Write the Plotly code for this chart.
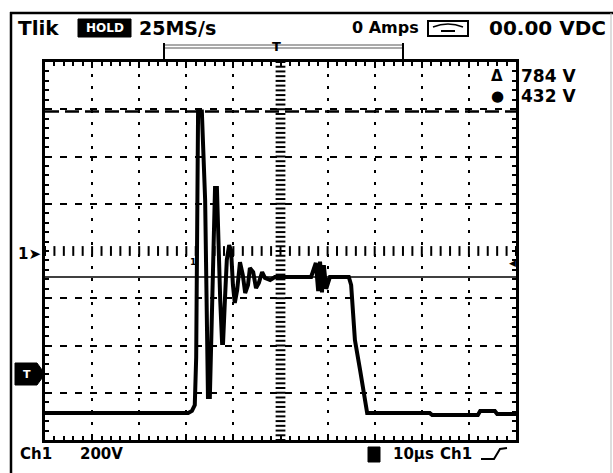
import plotly.graph_objects as go
import numpy as np

# ---- data (time in microseconds, 10 us/div; volts, 200 V/div) ----
time_us = [0.0, 30.4, 31.2, 31.8, 32.1, 32.5, 33.3, 34.0, 34.4, 34.6, 35.0, 35.2,
           35.7, 36.1, 36.5, 36.7, 37.2, 37.6, 37.8, 38.2, 38.6, 39.1, 39.5, 39.9, 40.3,
           40.8, 41.4, 42.0, 42.5, 43.1, 43.5, 44.2, 44.8, 45.4, 46.1, 46.7, 47.8, 48.8,
           56.5, 57.5, 58.0, 58.4, 58.8, 59.2, 59.7, 60.5, 64.5, 65.0, 65.8, 66.9,
           67.7, 68.4, 81.7, 82.2, 91.9, 92.4, 95.5, 96.0, 100.0]
volts = [-686, -686, -677, -652, -450, 590, 590, 216, -334, -618, -618, -419,
         4, 267, 267, 89, -207, -389, -389, -207, -38, 25, 4, -144, -220,
         -165, -47, -102, -178, -144, -72, -89, -157, -135, -89, -114, -123, -110,
         -110, -50, -170, -45, -175, -60, -160, -110, -110, -144, -377, -504,
         -610, -686, -686, -694, -694, -677, -677, -690, -690]

cursor_upper_v = 590
cursor_lower_v = -110

top_left_text = "Tlik"
hold_text = "HOLD"
rate_text = "25MS/s"
amps_text = "0 Amps"
vdc_text = "00.00 VDC"
delta_text = "784 V"
at_text = "432 V"
ch_scale = ["Ch1", "200V"]
time_scale = ["10µs", "Ch1"]

# ---- geometry helpers (pixel -> paper) ----
W, H = 613, 473
L, R, T, B = 45, 516, 62, 440
def px(x):
    return (x - L) / (R - L)
def py(y):
    return (B - y) / (B - T)

FONT = "DejaVu Sans"

fig = go.Figure()

# graticule centre tick marks
cx = np.arange(0, 100.01, 2.0)
fig.add_trace(go.Scatter(x=cx, y=[0] * len(cx), mode="markers",
                         marker=dict(symbol="line-ns", size=7, line=dict(width=2, color="black")),
                         hoverinfo="skip", showlegend=False))
cy = np.arange(-800, 800.01, 20)
fig.add_trace(go.Scatter(x=[50] * len(cy), y=cy, mode="markers",
                         marker=dict(symbol="line-ew", size=7, line=dict(width=2, color="black")),
                         hoverinfo="skip", showlegend=False))

# waveform
fig.add_trace(go.Scatter(x=time_us, y=volts, mode="lines",
                         line=dict(color="black", width=4),
                         showlegend=False))

shapes = []
def pline(x0, y0, x1, y1, color="black", width=2):
    shapes.append(dict(type="line", xref="paper", yref="paper", layer="above",
                       x0=px(x0), x1=px(x1), y0=py(y0), y1=py(y1),
                       line=dict(color=color, width=width)))

# cursors
shapes.append(dict(type="line", xref="x", yref="y", x0=0, x1=100, y0=cursor_upper_v, y1=cursor_upper_v,
                   line=dict(color="black", width=2.5, dash="14px,6px")))
shapes.append(dict(type="line", xref="x", yref="y", x0=0, x1=100, y0=cursor_lower_v, y1=cursor_lower_v,
                   line=dict(color="black", width=1.5)))
# outer frame
pline(11, 12, 11, 473, width=2.5)
pline(10, 13, 613, 13, width=2.5)
pline(611, 13, 611, 473, color="#bbbbbb", width=1)
# trigger bracket at top
pline(164, 45, 403, 45, color="#555555", width=1)
pline(164, 48, 403, 48, color="#555555", width=1)
pline(164, 43, 164, 62)
pline(403, 43, 403, 62)
# HOLD box
shapes.append(dict(type="rect", xref="paper", yref="paper", x0=px(78), x1=px(131), y0=py(37), y1=py(19),
                   fillcolor="black", line=dict(color="black", width=1)))
# meter icon box
shapes.append(dict(type="rect", xref="paper", yref="paper", x0=px(428), x1=px(468), y0=py(36), y1=py(21),
                   fillcolor="white", line=dict(color="black", width=2)))
shapes.append(dict(type="path", xref="paper", yref="paper",
                   path=f"M {px(433)},{py(27)} Q {px(448)},{py(21)} {px(463)},{py(27)}",
                   line=dict(color="black", width=1.5)))
pline(441, 31, 455, 31)
# trigger level marker (left)
shapes.append(dict(type="path", xref="paper", yref="paper",
                   path=f"M {px(15)},{py(363)} L {px(37)},{py(363)} L {px(45)},{py(374)} L {px(37)},{py(385)} L {px(15)},{py(385)} Z",
                   fillcolor="black", line=dict(color="black", width=1)))
# bottom square
shapes.append(dict(type="rect", xref="paper", yref="paper", x0=px(368), x1=px(380), y0=py(462), y1=py(447),
                   fillcolor="black", line=dict(color="black", width=1)))
# trigger slope symbol
shapes.append(dict(type="path", xref="paper", yref="paper",
                   path=f"M {px(481)},{py(459)} L {px(494)},{py(459)} L {px(500)},{py(449)} L {px(507)},{py(448)}",
                   line=dict(color="black", width=2)))

ann = []
def text(x, y, s, size=17, color="black", anchor="left"):
    ann.append(dict(x=px(x), y=py(y), xref="paper", yref="paper", text=f"<b>{s}</b>", showarrow=False,
                    xanchor=anchor, yanchor="middle",
                    font=dict(family=FONT, size=size, color=color)))

text(16, 28, top_left_text, 20)
text(104.5, 28, hold_text, 12, "white", "center")
text(137, 28, rate_text, 19)
text(350, 28, amps_text, 16)
text(487, 28, vdc_text, 20)
text(276, 47, "T", 13, anchor="center")
text(489, 76, "Δ", 15)
text(519, 76, delta_text, 17)
text(489, 96, "●", 15)
text(519, 96, at_text, 17)
text(16, 254, "1➤", 15)
text(27, 374, "T", 11, "white", "center")
text(188, 262, "1", 9)
text(507, 263, "◀", 9)
text(18, 454, ch_scale[0], 15)
text(78, 454, ch_scale[1], 15)
text(391, 454, time_scale[0], 15)
text(438, 454, time_scale[1], 15)

fig.update_layout(
    width=W, height=H,
    margin=dict(l=L, r=W - R, t=T, b=H - B, pad=0),
    paper_bgcolor="white", plot_bgcolor="white",
    shapes=shapes, annotations=ann,
    xaxis=dict(range=[0, 100], tickvals=[10, 20, 30, 40, 60, 70, 80, 90], showticklabels=False,
               showgrid=True, gridcolor="black", gridwidth=2, griddash="3px,9px",
               ticks="inside", ticklen=6, tickwidth=2, tickcolor="black",
               showline=True, linecolor="black", linewidth=2.5, mirror="ticks", zeroline=False,
               minor=dict(dtick=2, ticks="inside", ticklen=4, tickwidth=1.5, tickcolor="black", showgrid=False)),
    yaxis=dict(range=[-800, 800], tickvals=[-600, -400, -200, 200, 400, 600], showticklabels=False,
               showgrid=True, gridcolor="black", gridwidth=2, griddash="7px,8px",
               ticks="inside", ticklen=6, tickwidth=2, tickcolor="black",
               showline=True, linecolor="black", linewidth=2.5, mirror="ticks", zeroline=False,
               minor=dict(dtick=40, ticks="inside", ticklen=4, tickwidth=1.5, tickcolor="black", showgrid=False)),
)

fig.write_html("out.html", config={"displayModeBar": False},
               post_script="document.body.style.margin='0';document.body.style.overflow='hidden';")
